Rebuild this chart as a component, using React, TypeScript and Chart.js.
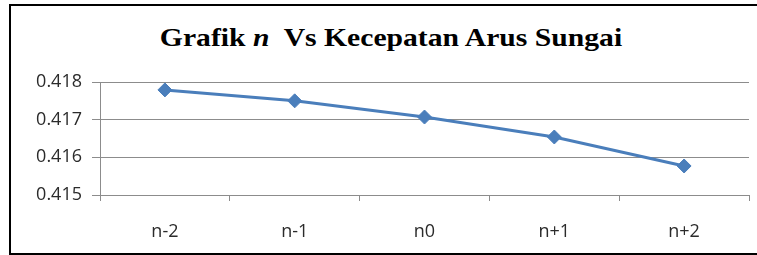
import React, { useEffect, useRef } from 'react';
import { Chart, registerables } from 'chart.js';

Chart.register(...registerables);

const categories = ['n-2', 'n-1', 'n0', 'n+1', 'n+2'];
const values = [0.41779, 0.4175, 0.41707, 0.41654, 0.41577];
const yTicks = [0.415, 0.416, 0.417, 0.418];

const LINE_COLOR = '#4a7ebb';
const GRID_COLOR = '#8c8c8c';
const LABEL_COLOR = '#2b2b2b';

export default function App() {
  const ref = useRef<HTMLCanvasElement>(null);

  useEffect(() => {
    const chart = new Chart(ref.current!, {
      type: 'line',
      data: {
        labels: categories,
        datasets: [
          {
            data: values,
            borderColor: LINE_COLOR,
            backgroundColor: LINE_COLOR,
            borderWidth: 3,
            pointStyle: 'rectRot',
            pointRadius: 7,
            pointBorderWidth: 1,
            tension: 0,
          },
        ],
      },
      options: {
        animation: false,
        responsive: false,
        maintainAspectRatio: false,
        devicePixelRatio: 1,
        layout: { padding: { left: 0, right: 5, top: 82, bottom: 0 } },
        plugins: {
          legend: { display: false },
          title: { display: false },
          tooltip: { enabled: false },
        },
        scales: {
          x: {
            offset: true,
            grid: {
              offset: true,
              drawOnChartArea: false,
              drawTicks: true,
              tickLength: 6,
              color: GRID_COLOR,
            },
            border: { display: false },
            ticks: {
              padding: 20,
              color: LABEL_COLOR,
              font: { family: 'Open Sans', size: 18 },
            },
            afterFit: (s: any) => {
              s.height = 60;
            },
          },
          y: {
            min: 0.415,
            max: 0.418,
            afterBuildTicks: (s: any) => {
              s.ticks = yTicks.map((v) => ({ value: v }));
            },
            ticks: {
              padding: 10,
              color: LABEL_COLOR,
              font: { family: 'Open Sans', size: 18 },
              callback: (v: any) => Number(v).toFixed(3),
            },
            grid: { color: GRID_COLOR, tickLength: 8 },
            border: { color: GRID_COLOR },
            afterFit: (s: any) => {
              s.width = 100;
            },
          },
        },
      },
    });
    return () => chart.destroy();
  }, []);

  return (
    <>
      <div
        style={{
          position: 'absolute',
          left: 9,
          top: 4,
          width: 748,
          height: 251,
          boxSizing: 'border-box',
          borderTop: '2px solid #000',
          borderLeft: '2px solid #000',
          borderBottom: '2px solid #000',
        }}
      />
      <div
        style={{
          position: 'absolute',
          left: 391,
          top: 23,
          transform: 'translateX(-50%) scaleX(1.14)',
          whiteSpace: 'pre',
          fontFamily: '"Liberation Serif", "Times New Roman", serif',
          fontWeight: 'bold',
          fontSize: 26,
          lineHeight: '30px',
          color: '#000',
        }}
      >
        Grafik <i>n</i>  Vs Kecepatan Arus Sungai
      </div>
      <canvas
        ref={ref}
        width={757}
        height={255}
        style={{ position: 'absolute', left: 0, top: 0 }}
      />
    </>
  );
}
